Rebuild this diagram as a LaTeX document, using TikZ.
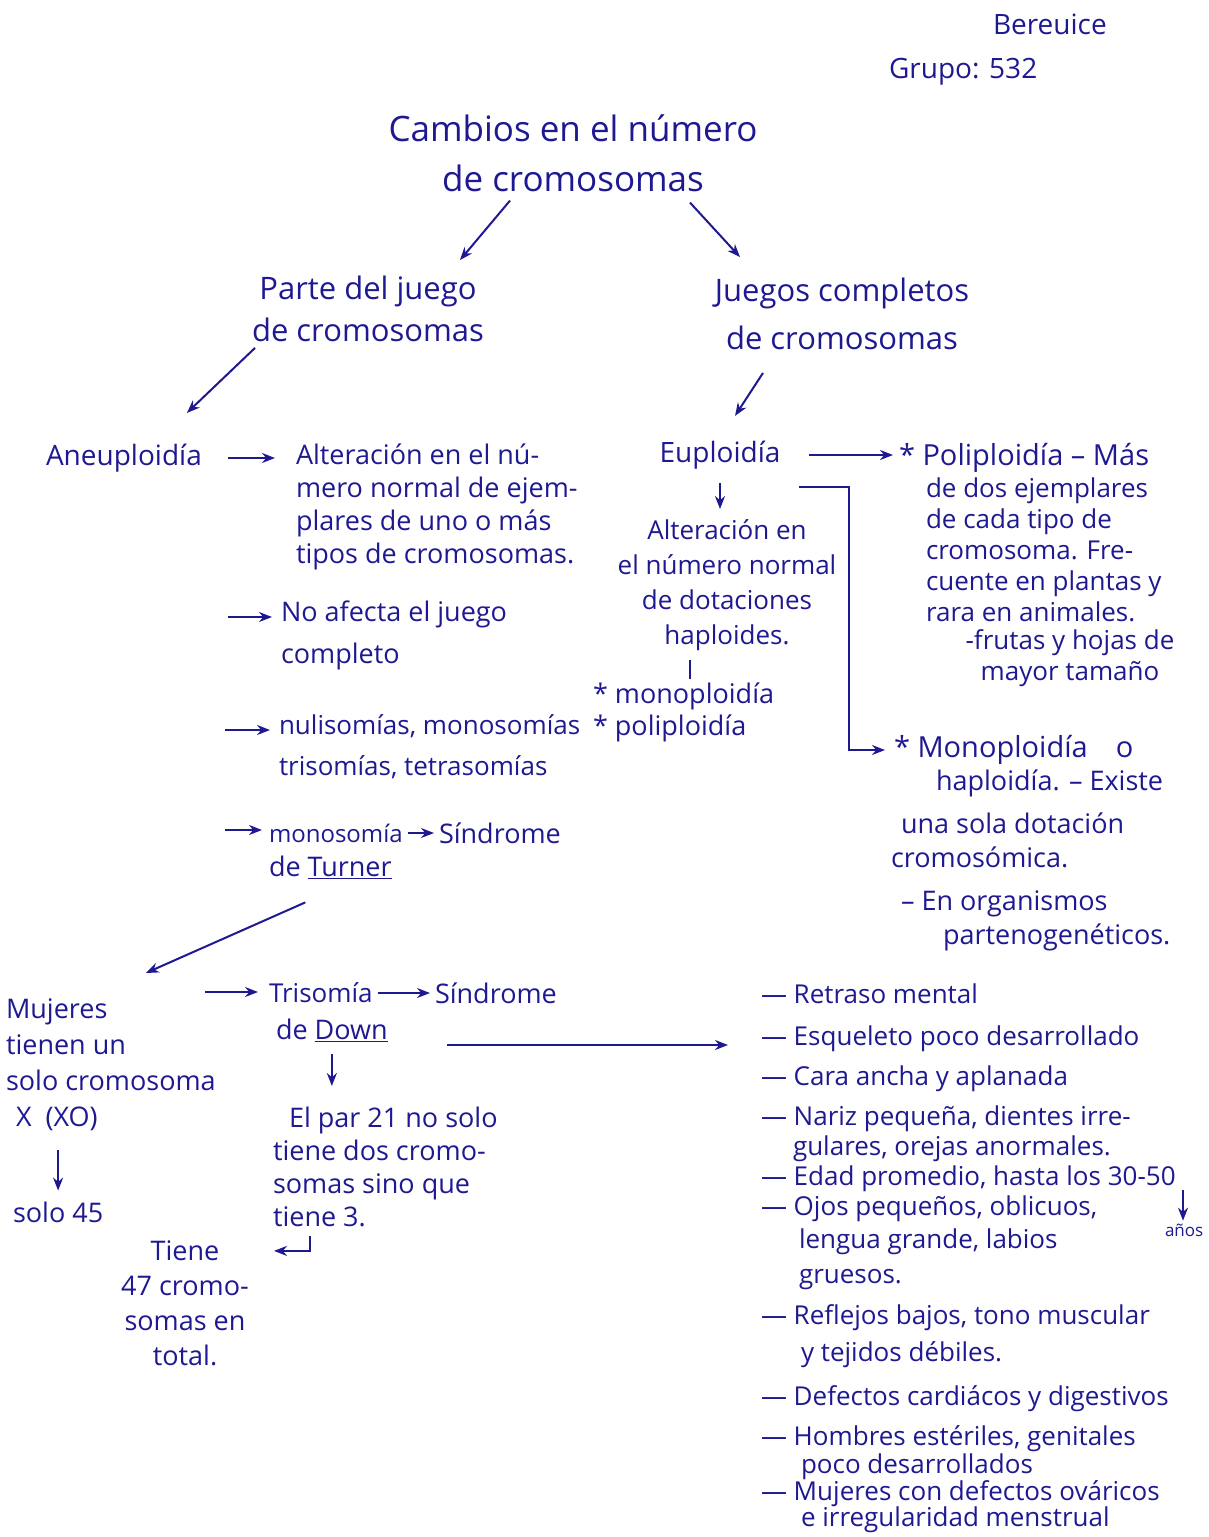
\documentclass[tikz,border=0pt]{standalone}
\usepackage{fontspec}
\setmainfont{Open Sans}
\usepackage{tikz}
\usetikzlibrary{arrows, arrows.meta, positioning}
\definecolor{ink}{RGB}{30,25,145}

\begin{document}
\begin{tikzpicture}[x=1pt, y=-1pt, ->, >={Stealth[length=13pt, width=10pt]}, color=ink, line width=2pt,
    txt/.style={inner sep=0pt, text=ink, align=left, font=\fontsize{27}{33}\selectfont},
    titulo/.style={inner sep=0pt, text=ink, align=center, font=\fontsize{35}{50}\selectfont},
    rama/.style={inner sep=0pt, text=ink, align=center, font=\fontsize{31}{44}\selectfont}]
                            \useasboundingbox (0,0) rectangle (1208,1537);
                            % encabezado
                            \node [txt, anchor=west, font=\fontsize{28}{34}\selectfont] (bere) at (992,24) {Bereuice};
                            \node [txt, anchor=west, font=\fontsize{28}{34}\selectfont] (grupo) at (888,72) {Grupo: 532};
                            \node [titulo] (cambios) at (573,153) {Cambios en el número\\de cromosomas};
                            \node [rama, font=\fontsize{31}{42}\selectfont] (parte) at (368,309) {Parte del juego\\de cromosomas};
                            \node [rama, font=\fontsize{31}{48}\selectfont] (juegos) at (842,314) {Juegos completos\\de cromosomas};

                            % aneuploidia
                            \node [txt, anchor=west, font=\fontsize{28}{34}\selectfont] (aneu) at (45,458) {Aneuploidía};
                            \node [txt, anchor=north west] (alt) at (295,443) {Alteración en el nú-\\mero normal de ejem-\\plares de uno o más\\tipos de cromosomas.};
                            \node [txt, anchor=north west, font=\fontsize{27}{42}\selectfont] (noaf) at (280,600) {No afecta el juego\\completo};
                            \node [txt, anchor=north west, font=\fontsize{26}{41}\selectfont] (nuli) at (278,714) {nulisomías, monosomías\\trisomías, tetrasomías};
                            \node [txt, anchor=west, font=\fontsize{24}{28}\selectfont] (monos) at (268,833) {monosomía};
                            \node [txt, anchor=west] (sindT) at (438,833) {Síndrome};
                            \node [txt, anchor=west] (deT) at (268,867) {de \underline{Turner}};
                            \node [txt, anchor=north west, font=\fontsize{27}{36}\selectfont] (mujeres) at (5,998) {Mujeres\\tienen un\\solo cromosoma\\\hspace*{10pt}X\hspace*{14pt}(XO)};
                            \node [txt, anchor=west] (solo) at (12,1212) {solo 45};
                            \node [txt, anchor=west, font=\fontsize{26}{30}\selectfont] (tris) at (268,993) {Trisomía};
                            \node [txt, anchor=west] (sindD) at (434,993) {Síndrome};
                            \node [txt, anchor=west] (deD) at (275,1030) {de \underline{Down}};
                            \node [txt, anchor=north west] (elpar) at (272,1106) {\hspace*{16pt}El par 21 no solo\\tiene dos cromo-\\somas sino que\\tiene 3.};
                            \node [txt, anchor=north, align=center, font=\fontsize{27}{35}\selectfont] (tiene) at (185,1240) {Tiene\\47 cromo-\\somas en\\total.};
                            \node [txt, anchor=north west, font=\fontsize{26}{26}\selectfont] (sintomas) at (760,983) {--- Retraso mental\\[16pt]--- Esqueleto poco desarrollado\\[14pt]--- Cara ancha y aplanada\\[14pt]--- Nariz pequeña, dientes irre-\\[4pt]\hspace*{32pt}gulares, orejas anormales.\\[4pt]--- Edad promedio, hasta los 30-50\\[4pt]--- Ojos pequeños, oblicuos,\\[7pt]\hspace*{38pt}lengua grande, labios\\[9pt]\hspace*{38pt}gruesos.\\[14pt]--- Reflejos bajos, tono muscular\\[9pt]\hspace*{40pt}y tejidos débiles.\\[17pt]--- Defectos cardiácos y digestivos\\[13pt]--- Hombres estériles, genitales\\[2pt]\hspace*{40pt}poco desarrollados\\--- Mujeres con defectos ováricos\\\hspace*{40pt}e irregularidad menstrual};
                            \node [txt, anchor=west, font=\fontsize{17}{20}\selectfont] (anos) at (1164,1230) {años};

                            % euploidia
                            \node [txt, anchor=center, font=\fontsize{28}{34}\selectfont] (eup) at (720,455) {Euploidía};
                            \node [txt, anchor=west, font=\fontsize{29}{34}\selectfont] (poli) at (898,458) {* Poliploidía -- Más};
                            \node [txt, anchor=north west, font=\fontsize{26}{31}\selectfont] (polib) at (925,477) {de dos ejemplares\\de cada tipo de\\cromosoma. Fre-\\cuente en plantas y\\rara en animales.};
                            \node [txt, anchor=north, align=center, font=\fontsize{26}{31}\selectfont] (frutas) at (1070,629) {-frutas y hojas de\\mayor tamaño};
                            \node [txt, anchor=north, align=center, font=\fontsize{26}{35}\selectfont] (altE) at (727,519) {Alteración en\\el número normal\\de dotaciones\\haploides.};
                            \node [txt, anchor=north west, font=\fontsize{27}{32}\selectfont] (monoE) at (592,682) {* monoploidía\\* poliploidía};
                            \node [txt, anchor=west, font=\fontsize{29}{34}\selectfont] (monoH) at (893,750) {* Monoploidía\hspace*{28pt}o};
                            \node [txt, anchor=north west, font=\fontsize{27}{34}\selectfont] (hap) at (890,769) {\hspace*{45pt}haploidía. -- Existe\\[9pt]\hspace*{10pt}una sola dotación\\cromosómica.\\[9pt]\hspace*{10pt}-- En organismos\\\hspace*{52pt}partenogenéticos.};

                            % flechas libres
                            \coordinate (b1) at (228,617);
                            \coordinate (b2) at (225,730);
                            \coordinate (b3) at (225,830);
                            \coordinate (b4) at (205,992);
                            \coordinate (ya) at (1183,1190);

                            \draw ([xshift=-63pt, yshift=-8pt]cambios.south) -- ([xshift=92pt, yshift=15pt]parte.north);
                            \draw ([xshift=117pt, yshift=-10pt]cambios.south) -- ([xshift=-102pt, yshift=20pt]juegos.north);
                            \draw ([xshift=-113pt, yshift=-5pt]parte.south) -- ([xshift=63pt, yshift=30pt]aneu.north);
                            \draw ([xshift=-79pt, yshift=-22pt]juegos.south) -- ([xshift=15pt, yshift=24pt]eup.north);
                            \draw [shorten <=25pt, shorten >=20pt] (aneu.east) -- (aneu.east -| alt.west);
                            \draw [shorten >=8pt] (b1) -- (b1 -| noaf.west);
                            \draw [shorten >=8pt] (b2) -- (b2 -| nuli.west);
                            \draw [shorten >=6pt] (b3) -- (b3 -| monos.west);
                            \draw [shorten <=4pt, shorten >=4pt] (monos.east) -- (monos.east -| sindT.west);
                            \draw ([xshift=-25pt, yshift=-23pt]deT.south) -- ([xshift=35pt, yshift=25pt]mujeres.north);
                            \draw [shorten >=10pt] (b4) -- (b4 -| tris.west);
                            \draw [shorten <=4pt, shorten >=4pt] (tris.east) -- (tris.east -| sindD.west);
                            \draw [shorten <=12pt, shorten >=20pt] (deD.south) -- (deD.south |- elpar.north);
                            \draw [shorten <=18pt, shorten >=10pt] (mujeres.south -| solo.north) -- (solo.north);
                            \draw ([xshift=38pt, yshift=-8pt]elpar.south west) -- ++(0,15) -- ++(-36,0);
                            \draw [shorten <=58pt, shorten >=32pt] ([yshift=-15pt]deD.east) -- ([yshift=-15pt]deD.east -| sintomas.west);
                            \draw [shorten >=2pt] (ya) -- (ya |- anos.north);
                            \draw [shorten <=28pt, shorten >=5pt] (eup.east) -- (eup.east -| poli.west);
                            \draw [shorten <=13pt, shorten >=10pt] (eup.south) -- (eup.south |- altE.north);
                            \draw [-] ([xshift=-37pt, yshift=-8pt]altE.south) -- ++(0,19);
                            \draw [shorten >=8pt] ([xshift=18pt, yshift=-17pt]eup.south east) -- ++(50,0) |- (monoH.west);
                        \end{tikzpicture}
\end{document}
